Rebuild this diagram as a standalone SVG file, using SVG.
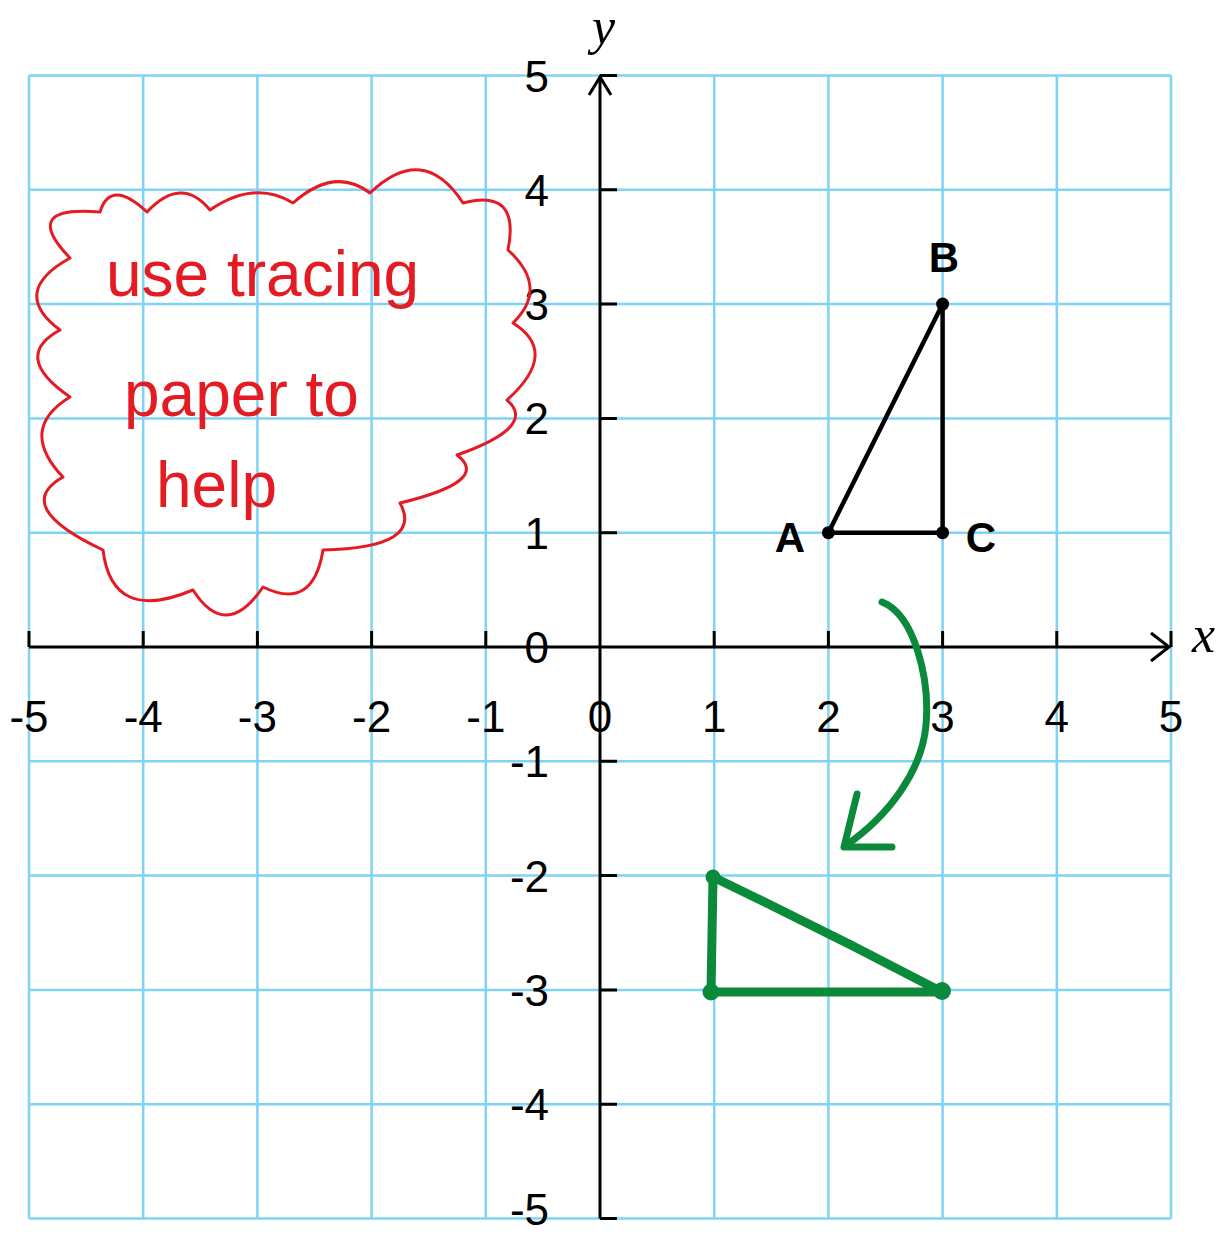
<svg xmlns="http://www.w3.org/2000/svg" width="1228" height="1235" viewBox="0 0 1228 1235">
<style>
.grid line{stroke:#7fd3f5;stroke-width:2.5}
.axis{stroke:#000;stroke-width:3;fill:none}
.lbl{font-family:"Liberation Sans",Arial,sans-serif;font-size:44px;fill:#000}
.xl{text-anchor:middle}
.yl{text-anchor:end}
.pt{font-family:"Liberation Sans",Arial,sans-serif;font-size:42px;font-weight:bold;fill:#000;text-anchor:middle}
.ax{font-family:"Liberation Serif","Times New Roman",serif;font-style:italic;font-size:52px;fill:#000}
.note{font-family:"Liberation Sans",Arial,sans-serif;font-size:64px;fill:#e41b23}
.green{stroke:#0a8a3a;fill:none;stroke-linecap:round;stroke-linejoin:round}
</style>
<rect width="1228" height="1235" fill="#fff"/>
<g id="grid" class="grid">
<line x1="29" y1="75.5" x2="29" y2="1218.5"/>
<line x1="143.2" y1="75.5" x2="143.2" y2="1218.5"/>
<line x1="257.4" y1="75.5" x2="257.4" y2="1218.5"/>
<line x1="371.6" y1="75.5" x2="371.6" y2="1218.5"/>
<line x1="485.8" y1="75.5" x2="485.8" y2="1218.5"/>
<line x1="714.2" y1="75.5" x2="714.2" y2="1218.5"/>
<line x1="828.4" y1="75.5" x2="828.4" y2="1218.5"/>
<line x1="942.6" y1="75.5" x2="942.6" y2="1218.5"/>
<line x1="1056.8" y1="75.5" x2="1056.8" y2="1218.5"/>
<line x1="1171" y1="75.5" x2="1171" y2="1218.5"/>
<line x1="29" y1="75.5" x2="1171" y2="75.5"/>
<line x1="29" y1="189.8" x2="1171" y2="189.8"/>
<line x1="29" y1="304.1" x2="1171" y2="304.1"/>
<line x1="29" y1="418.4" x2="1171" y2="418.4"/>
<line x1="29" y1="532.7" x2="1171" y2="532.7"/>
<line x1="29" y1="761.3" x2="1171" y2="761.3"/>
<line x1="29" y1="875.6" x2="1171" y2="875.6"/>
<line x1="29" y1="989.9" x2="1171" y2="989.9"/>
<line x1="29" y1="1104.2" x2="1171" y2="1104.2"/>
<line x1="29" y1="1218.5" x2="1171" y2="1218.5"/>
</g>
<g id="axes">
<path class="axis" d="M29,647 H1169 M600,1218.5 V77"/>
<path class="axis" d="M1151,633 L1169,647 L1151,661 M589,95 L600,77 L611,95"/>
<path class="axis" d="M29,647 V631 M143.2,647 V631 M257.4,647 V631 M371.6,647 V631 M485.8,647 V631 M714.2,647 V631 M828.4,647 V631 M942.6,647 V631 M1056.8,647 V631 M1171,647 V631"/>
<path class="axis" d="M600,75.5 H617 M600,189.8 H617 M600,304.1 H617 M600,418.4 H617 M600,532.7 H617 M600,761.3 H617 M600,875.6 H617 M600,989.9 H617 M600,1104.2 H617 M600,1218.5 H617"/>
<text class="ax" x="592" y="44">y</text>
<text class="ax" x="1192" y="652">x</text>
</g>
<g id="x-labels" class="lbl xl">
<text x="29" y="732">-5</text>
<text x="143.2" y="732">-4</text>
<text x="257.4" y="732">-3</text>
<text x="371.6" y="732">-2</text>
<text x="485.8" y="732">-1</text>
<text x="600" y="732">0</text>
<text x="714.2" y="732">1</text>
<text x="828.4" y="732">2</text>
<text x="942.6" y="732">3</text>
<text x="1056.8" y="732">4</text>
<text x="1171" y="732">5</text>
</g>
<g id="y-labels" class="lbl yl">
<text x="549" y="91.5">5</text>
<text x="549" y="205.8">4</text>
<text x="549" y="320.1">3</text>
<text x="549" y="434.4">2</text>
<text x="549" y="548.7">1</text>
<text x="549" y="663">0</text>
<text x="549" y="777.3">-1</text>
<text x="549" y="891.6">-2</text>
<text x="549" y="1005.9">-3</text>
<text x="549" y="1120.2">-4</text>
<text x="549" y="1225">-5</text>
</g>
<g id="triangle-ABC">
<path d="M828.4,532.7 L942.6,304.1 L942.6,532.7 Z" fill="none" stroke="#000" stroke-width="4.5" stroke-linejoin="round"/>
<circle cx="828.4" cy="532.7" r="6.5"/>
<circle cx="942.6" cy="304.1" r="6.5"/>
<circle cx="942.6" cy="532.7" r="6.5"/>
<text class="pt" x="944" y="272">B</text>
<text class="pt" x="790" y="552">A</text>
<text class="pt" x="981" y="552">C</text>
</g>
<g id="image-triangle">
<path class="green" stroke-width="9" d="M713,877 C760,900 820,928 942,992 L711,992 Z"/>
<circle cx="713" cy="877" r="7.5" fill="#0a8a3a"/>
<circle cx="711" cy="992" r="8.5" fill="#0a8a3a"/>
<circle cx="942" cy="991" r="9" fill="#0a8a3a"/>
</g>
<g id="connectors">
<path class="green" stroke-width="7" d="M882,602 C915,615 930,680 926,725 C922,770 890,815 845,846"/>
<path class="green" stroke-width="7" d="M857,794 L844,847 L892,847"/>
</g>
<g id="note">
<path fill="none" stroke="#e41b23" stroke-width="3" stroke-linejoin="round" d="M100,212 Q110.5,178 147,212 Q181.5,175 210,210 Q254.5,179.5 293,203 Q334.5,166 370,193 Q423.5,142 463,203 Q520.5,187.5 508,250 Q549.5,287.5 513,323 Q560,352.5 507,400 Q538,426.5 457,455 Q491.5,481 400,503 Q424.5,547.5 323,550 Q313,611.5 263,587 Q226,641.5 193,590 Q112,624 103,550 Q11,506.5 63,477 Q17.5,429 70,397 Q11,356.5 60,330 Q9,292 70,258 Q19,205 100,212 Z"/>
<text class="note" x="106" y="296">use tracing</text>
<text class="note" x="124" y="416">paper to</text>
<text class="note" x="156" y="507">help</text>
</g>
</svg>
